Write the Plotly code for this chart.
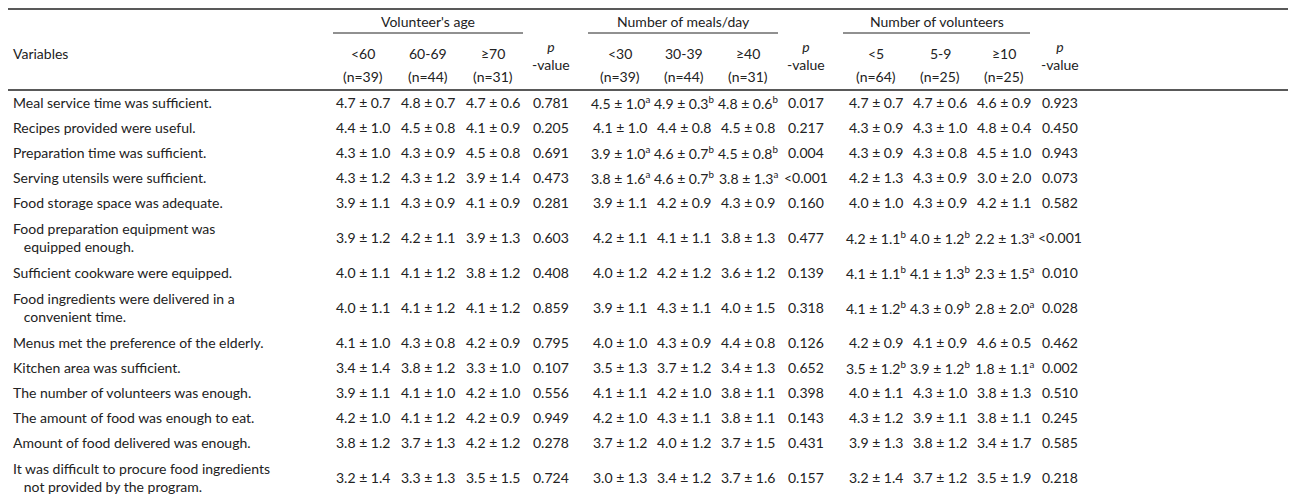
import plotly.graph_objects as go

# row labels (second line of wrapped labels after <br>)
variables = [
    "Meal service time was sufficient.",
    "Recipes provided were useful.",
    "Preparation time was sufficient.",
    "Serving utensils were sufficient.",
    "Food storage space was adequate.",
    "Food preparation equipment was<br>   equipped enough.",
    "Sufficient cookware were equipped.",
    "Food ingredients were delivered in a<br>   convenient time.",
    "Menus met the preference of the elderly.",
    "Kitchen area was sufficient.",
    "The number of volunteers was enough.",
    "The amount of food was enough to eat.",
    "Amount of food delivered was enough.",
    "It was difficult to procure food ingredients<br>   not provided by the program.",
]

groups = ["Volunteer's age", "Number of meals/day", "Number of volunteers"]
sub_labels = [["<60", "60-69", "≥70"], ["<30", "30-39", "≥40"], ["<5", "5-9", "≥10"]]
sub_n = [["(n=39)", "(n=44)", "(n=31)"], ["(n=39)", "(n=44)", "(n=31)"], ["(n=64)", "(n=25)", "(n=25)"]]

# means / sd per group: rows x 3 subgroups
age_mean = [[4.7, 4.8, 4.7], [4.4, 4.5, 4.1], [4.3, 4.3, 4.5], [4.3, 4.3, 3.9], [3.9, 4.3, 4.1],
            [3.9, 4.2, 3.9], [4.0, 4.1, 3.8], [4.0, 4.1, 4.1], [4.1, 4.3, 4.2], [3.4, 3.8, 3.3],
            [3.9, 4.1, 4.2], [4.2, 4.1, 4.2], [3.8, 3.7, 4.2], [3.2, 3.3, 3.5]]
age_sd = [[0.7, 0.7, 0.6], [1.0, 0.8, 0.9], [1.0, 0.9, 0.8], [1.2, 1.2, 1.4], [1.1, 0.9, 0.9],
          [1.2, 1.1, 1.3], [1.1, 1.2, 1.2], [1.1, 1.2, 1.2], [1.0, 0.8, 0.9], [1.4, 1.2, 1.0],
          [1.1, 1.0, 1.0], [1.0, 1.2, 0.9], [1.2, 1.3, 1.2], [1.4, 1.3, 1.5]]
age_p = ["0.781", "0.205", "0.691", "0.473", "0.281", "0.603", "0.408", "0.859", "0.795",
         "0.107", "0.556", "0.949", "0.278", "0.724"]

meal_mean = [[4.5, 4.9, 4.8], [4.1, 4.4, 4.5], [3.9, 4.6, 4.5], [3.8, 4.6, 3.8], [3.9, 4.2, 4.3],
             [4.2, 4.1, 3.8], [4.0, 4.2, 3.6], [3.9, 4.3, 4.0], [4.0, 4.3, 4.4], [3.5, 3.7, 3.4],
             [4.1, 4.2, 3.8], [4.2, 4.3, 3.8], [3.7, 4.0, 3.7], [3.0, 3.4, 3.7]]
meal_sd = [[1.0, 0.3, 0.6], [1.0, 0.8, 0.8], [1.0, 0.7, 0.8], [1.6, 0.7, 1.3], [1.1, 0.9, 0.9],
           [1.1, 1.1, 1.3], [1.2, 1.2, 1.2], [1.1, 1.1, 1.5], [1.0, 0.9, 0.8], [1.3, 1.2, 1.3],
           [1.1, 1.0, 1.1], [1.0, 1.1, 1.1], [1.2, 1.2, 1.5], [1.3, 1.2, 1.6]]
meal_sup = {0: "abb", 2: "abb", 3: "aba"}
meal_p = ["0.017", "0.217", "0.004", "<0.001", "0.160", "0.477", "0.139", "0.318", "0.126",
          "0.652", "0.398", "0.143", "0.431", "0.157"]

vol_mean = [[4.7, 4.7, 4.6], [4.3, 4.3, 4.8], [4.3, 4.3, 4.5], [4.2, 4.3, 3.0], [4.0, 4.3, 4.2],
            [4.2, 4.0, 2.2], [4.1, 4.1, 2.3], [4.1, 4.3, 2.8], [4.2, 4.1, 4.6], [3.5, 3.9, 1.8],
            [4.0, 4.3, 3.8], [4.3, 3.9, 3.8], [3.9, 3.8, 3.4], [3.2, 3.7, 3.5]]
vol_sd = [[0.7, 0.6, 0.9], [0.9, 1.0, 0.4], [0.9, 0.8, 1.0], [1.3, 0.9, 2.0], [1.0, 0.9, 1.1],
          [1.1, 1.2, 1.3], [1.1, 1.3, 1.5], [1.2, 0.9, 2.0], [0.9, 0.9, 0.5], [1.2, 1.2, 1.1],
          [1.1, 1.0, 1.3], [1.2, 1.1, 1.1], [1.3, 1.2, 1.7], [1.4, 1.2, 1.9]]
vol_sup = {5: "bba", 6: "bba", 7: "bba", 9: "bba"}
vol_p = ["0.923", "0.450", "0.943", "0.073", "0.582", "<0.001", "0.010", "0.028", "0.462",
         "0.002", "0.510", "0.245", "0.585", "0.218"]

W, H = 1296, 497
col_x = [[355, 420, 485], [612, 676, 740], [868, 932, 996]]
p_x = [543, 798, 1052]
line_span = [(325, 515), (580, 770), (835, 1022)]
font = dict(family="Lato, Open Sans, sans-serif", size=14, color="#222")

fig = go.Figure()
ann = []


def add(x, y, text, anchor="center"):
    ann.append(dict(x=x, y=y, text=text, showarrow=False, xanchor=anchor, yanchor="middle",
                    align="left" if anchor == "left" else "center", font=font))


# header
add(3, 45, "Variables", "left")
for g in range(3):
    add(sum(line_span[g]) / 2, 13, groups[g])
    fig.add_shape(type="line", x0=line_span[g][0], x1=line_span[g][1], y0=25, y1=25,
                  line=dict(color="#222", width=1))
    for k in range(3):
        add(col_x[g][k], 45, sub_labels[g][k])
        add(col_x[g][k], 68, sub_n[g][k])
    add(p_x[g], 47, "<i>p</i><br>-value")

# rows
y = 82
single, double = 25, 45
means = [age_mean, meal_mean, vol_mean]
sds = [age_sd, meal_sd, vol_sd]
sups = [{}, meal_sup, vol_sup]
pvals = [age_p, meal_p, vol_p]
for i, label in enumerate(variables):
    h = double if "<br>" in label else single
    yc = y + h / 2
    add(3, yc, label, "left")
    for g in range(3):
        for k in range(3):
            t = f"{means[g][i][k]:.1f} ± {sds[g][i][k]:.1f}"
            if i in sups[g]:
                t += f"<sup>{sups[g][i][k]}</sup>"
            add(col_x[g][k], yc, t)
        add(p_x[g], yc, pvals[g][i])
    y += h

fig.add_shape(type="line", x0=0, x1=W, y0=1, y1=1, line=dict(color="#222", width=1.5))
fig.add_shape(type="line", x0=0, x1=W, y0=82, y1=82, line=dict(color="#222", width=1.5))
fig.add_shape(type="line", x0=0, x1=W, y0=y + 2, y1=y + 2, line=dict(color="#222", width=1.5))

fig.update_layout(
    width=W, height=H, margin=dict(l=0, r=0, t=0, b=0),
    paper_bgcolor="white", plot_bgcolor="white",
    xaxis=dict(range=[0, W], visible=False, fixedrange=True),
    yaxis=dict(range=[H, 0], visible=False, fixedrange=True),
    annotations=ann, showlegend=False,
)
fig.write_html("out.html")
